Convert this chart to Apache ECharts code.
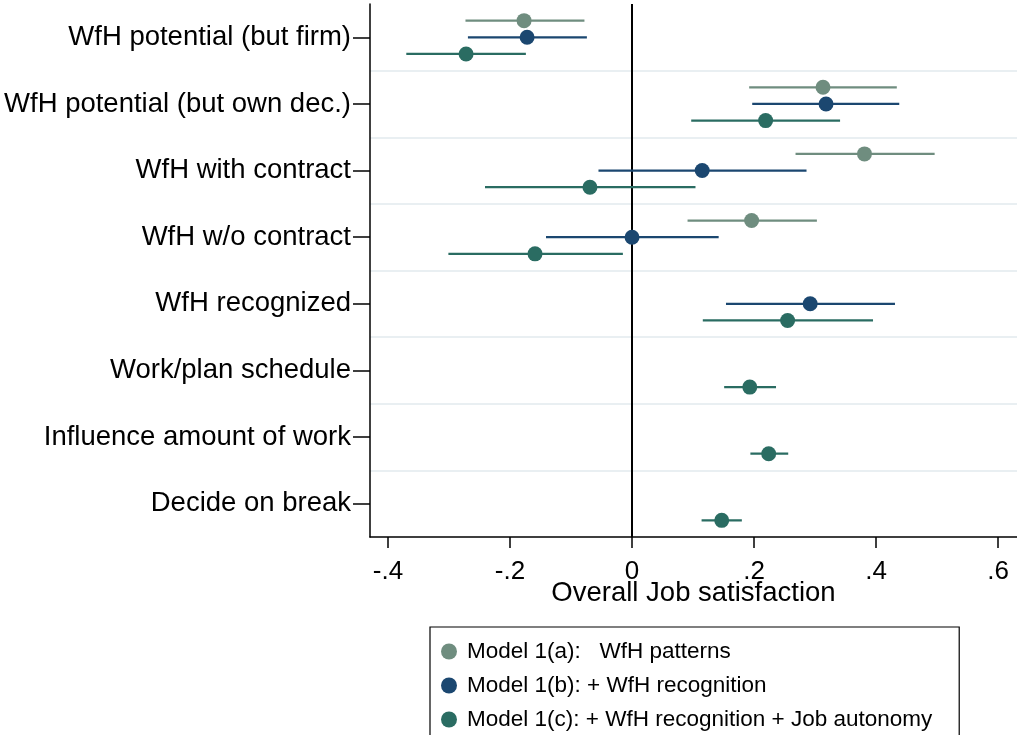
<!DOCTYPE html>
<html>
<head>
<meta charset="utf-8">
<script src="https://cdn.jsdelivr.net/npm/echarts@6/dist/echarts.min.js"></script>
<style>
html,body{margin:0;padding:0;background:#fff;}
#chart{width:1017px;height:735px;}
</style>
</head>
<body>
<div id="chart"></div>
<script>
// Categories (top to bottom)
const categories = [
  'WfH potential (but firm)',
  'WfH potential (but own dec.)',
  'WfH with contract',
  'WfH w/o contract',
  'WfH recognized',
  'Work/plan schedule',
  'Influence amount of work',
  'Decide on break'
];
const xTicks = [-0.4, -0.2, 0, 0.2, 0.4, 0.6];
const seriesNames = [
  'Model 1(a):   WfH patterns',
  'Model 1(b): + WfH recognition',
  'Model 1(c): + WfH recognition + Job autonomy'
];
// Point estimates and 95% CI bounds (null = not in model)
const estA = [-0.177, 0.313, 0.381, 0.196, null, null, null, null];
const loA  = [-0.273, 0.192, 0.268, 0.091, null, null, null, null];
const hiA  = [-0.078, 0.434, 0.496, 0.303, null, null, null, null];

const estB = [-0.172, 0.318, 0.115, 0.000, 0.292, null, null, null];
const loB  = [-0.269, 0.197, -0.055, -0.141, 0.154, null, null, null];
const hiB  = [-0.074, 0.438, 0.286, 0.142, 0.431, null, null, null];

const estC = [-0.272, 0.219, -0.069, -0.159, 0.255, 0.193, 0.224, 0.147];
const loC  = [-0.370, 0.097, -0.241, -0.301, 0.116, 0.151, 0.194, 0.114];
const hiC  = [-0.174, 0.341, 0.104, -0.015, 0.395, 0.236, 0.256, 0.180];

const colors = ['#6f8d7f', '#1b4770', '#2a6c62'];
const offsets = [-0.25, 0, 0.25];

function buildData(est, lo, hi) {
  const out = [];
  est.forEach((v, i) => { if (v !== null) out.push([i, lo[i], v, hi[i]]); });
  return out;
}
const allData = [buildData(estA, loA, hiA), buildData(estB, loB, hiB), buildData(estC, loC, hiC)];

function makeSeries(k) {
  return {
    name: seriesNames[k],
    type: 'custom',
    itemStyle: { color: colors[k] },
    encode: { x: [1, 2, 3], y: 0 },
    data: allData[k],
    renderItem: function (params, api) {
      const cat = api.value(0);
      const band = api.size([0, 1])[1];
      const dy = offsets[k] * band;
      const pLo = api.coord([api.value(1), cat]);
      const pEst = api.coord([api.value(2), cat]);
      const pHi = api.coord([api.value(3), cat]);
      return {
        type: 'group',
        children: [
          { type: 'line', shape: { x1: pLo[0], y1: pLo[1] + dy, x2: pHi[0], y2: pHi[1] + dy },
            style: { stroke: colors[k], lineWidth: 2.2 } },
          { type: 'circle', shape: { cx: pEst[0], cy: pEst[1] + dy, r: 7.5 },
            style: { fill: colors[k] } }
        ]
      };
    },
    z: 3
  };
}

const series = [makeSeries(0), makeSeries(1), makeSeries(2)];
series[0].markLine = {
  silent: true, symbol: ['none', 'none'], label: { show: false },
  lineStyle: { color: '#000', width: 2, type: 'solid' },
  data: [{ xAxis: 0 }], z: 2
};

const font = 'Liberation Sans, Arial, sans-serif';
const chart = echarts.init(document.getElementById('chart'), null, { renderer: 'canvas' });
chart.setOption({
  animation: false,
  backgroundColor: '#fff',
  textStyle: { fontFamily: font },
  grid: { left: 370, right: 0, top: 4, height: 533, containLabel: false, outerBoundsMode: 'none' },
  xAxis: {
    type: 'value', min: -0.4295, max: 0.631,
    name: 'Overall Job satisfaction', nameLocation: 'middle', nameGap: 42, nameMoveOverlap: false,
    nameTextStyle: { fontSize: 27.5, color: '#000', fontFamily: font },
    axisLine: { show: true, onZero: false, lineStyle: { color: '#000', width: 1.5 } },
    axisTick: { show: true, length: 11, lineStyle: { color: '#000', width: 1.5 }, customValues: xTicks },
    axisLabel: { fontSize: 26, color: '#000', margin: 22, customValues: xTicks, fontFamily: font,
      formatter: function (v) {
        if (Math.abs(v) < 1e-9) return '0';
        const s = Math.abs(v).toFixed(1).replace(/^0/, '');
        return (v < 0 ? '-' : '') + s;
      } },
    splitLine: { show: false }
  },
  yAxis: {
    type: 'category', data: categories, inverse: true,
    axisLine: { show: true, onZero: false, lineStyle: { color: '#000', width: 1.5 } },
    axisTick: { show: true, alignWithLabel: true, length: 17, lineStyle: { color: '#000', width: 1.5 } },
    axisLabel: { fontSize: 27.5, color: '#000', margin: 19, fontFamily: font, padding: [4, 0, 0, 0] },
    splitLine: { show: true, showMinLine: false, showMaxLine: false, lineStyle: { color: '#e9eff2', width: 2 } }
  },
  legend: {
    orient: 'vertical', left: 430, top: 627, height: 200,
    padding: [13, 27, 20, 11],
    borderColor: '#000', borderWidth: 1.2, backgroundColor: '#fff',
    itemWidth: 26, itemHeight: 16, itemGap: 11,
    textStyle: { fontSize: 22.5, color: '#000', fontFamily: font },
    data: seriesNames.map(n => ({ name: n, icon: 'circle' }))
  },
  series: series
});
</script>
</body>
</html>
